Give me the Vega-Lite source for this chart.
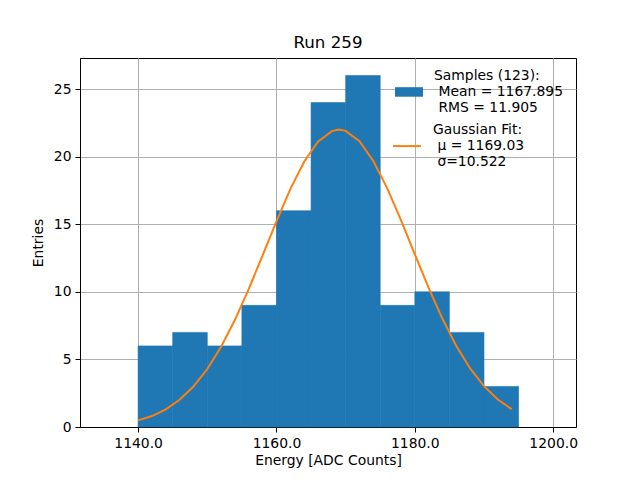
{
  "$schema": "https://vega.github.io/schema/vega-lite/v6.json",
  "width": 496,
  "height": 369,
  "autosize": "none",
  "padding": {"left": 80, "top": 58, "right": 64, "bottom": 53},
  "background": "white",
  "title": {"text": "Run 259", "fontSize": 16.7, "fontWeight": "normal", "font": "DejaVu Sans", "offset": 6, "color": "black"},
  "datasets": {
    "hist": [
      {"bin_start": 1140, "bin_end": 1145, "count": 6},
      {"bin_start": 1145, "bin_end": 1150, "count": 7},
      {"bin_start": 1150, "bin_end": 1155, "count": 6},
      {"bin_start": 1155, "bin_end": 1160, "count": 9},
      {"bin_start": 1160, "bin_end": 1165, "count": 16},
      {"bin_start": 1165, "bin_end": 1170, "count": 24},
      {"bin_start": 1170, "bin_end": 1175, "count": 26},
      {"bin_start": 1175, "bin_end": 1180, "count": 9},
      {"bin_start": 1180, "bin_end": 1185, "count": 10},
      {"bin_start": 1185, "bin_end": 1190, "count": 7},
      {"bin_start": 1190, "bin_end": 1195, "count": 3}
    ],
    "fit": [
      {"energy": 1140, "entries": 0.49},
      {"energy": 1142, "entries": 0.81},
      {"energy": 1144, "entries": 1.30},
      {"energy": 1146, "entries": 2.01},
      {"energy": 1148, "entries": 2.99},
      {"energy": 1150, "entries": 4.29},
      {"energy": 1152, "entries": 5.94},
      {"energy": 1154, "entries": 7.93},
      {"energy": 1156, "entries": 10.22},
      {"energy": 1158, "entries": 12.70},
      {"energy": 1160, "entries": 15.22},
      {"energy": 1162, "entries": 17.60},
      {"energy": 1164, "entries": 19.62},
      {"energy": 1166, "entries": 21.11},
      {"energy": 1168, "entries": 21.89},
      {"energy": 1169, "entries": 22.00},
      {"energy": 1170, "entries": 21.91},
      {"energy": 1172, "entries": 21.14},
      {"energy": 1174, "entries": 19.68},
      {"energy": 1176, "entries": 17.67},
      {"energy": 1178, "entries": 15.30},
      {"energy": 1180, "entries": 12.78},
      {"energy": 1182, "entries": 10.29},
      {"energy": 1184, "entries": 8.00},
      {"energy": 1186, "entries": 5.99},
      {"energy": 1188, "entries": 4.33},
      {"energy": 1190, "entries": 3.02},
      {"energy": 1192, "entries": 2.03},
      {"energy": 1194, "entries": 1.32}
    ]
  },
  "layer": [
    {
      "data": {"name": "hist"},
      "mark": {"type": "rect", "stroke": "#1f77b4", "strokeWidth": 0.6},
      "encoding": {
        "x": {"field": "bin_start", "type": "quantitative",
              "scale": {"domain": [1131.6, 1203.3], "nice": false, "zero": false},
              "axis": {"values": [1140, 1160, 1180, 1200], "format": ".1f", "title": "Energy [ADC Counts]"}},
        "x2": {"field": "bin_end"},
        "y": {"field": "count", "type": "quantitative",
              "scale": {"domain": [0, 27.3], "nice": false},
              "axis": {"values": [0, 5, 10, 15, 20, 25], "title": "Entries"}},
        "y2": {"datum": 0},
        "fill": {"datum": "Samples", "scale": {"range": ["#1f77b4"]},
                 "legend": {"orient": "none", "legendX": 315, "legendY": 4,
                            "symbolType": "M-1,0.8H1V1.48H-1Z", "symbolSize": 784, "symbolStrokeWidth": 0,
                            "labelExpr": "['Samples (123):', '\\u200b\\u00a0Mean = 1167.895', '\\u200b\\u00a0RMS = 11.905']"}}
      }
    },
    {
      "data": {"name": "fit"},
      "mark": {"type": "line", "strokeWidth": 2},
      "encoding": {
        "x": {"field": "energy", "type": "quantitative"},
        "y": {"field": "entries", "type": "quantitative"},
        "stroke": {"datum": "Gaussian Fit", "scale": {"range": ["#ff7f0e"]},
                   "legend": {"orient": "none", "legendX": 312, "legendY": 57,
                              "symbolType": "M-1,1.15H1", "symbolSize": 784, "symbolStrokeWidth": 2,
                              "labelExpr": "['Gaussian Fit:', '\\u200b\\u00a0μ = 1169.03', '\\u200b\\u00a0σ=10.522']"}}
      }
    },
    {
      "mark": {"type": "text", "align": "left", "baseline": "middle", "fontStyle": "italic", "fontSize": 13.9, "font": "DejaVu Sans", "color": "black"},
      "encoding": {
        "x": {"datum": 1135.2, "type": "quantitative"},
        "y": {"datum": 26.15, "type": "quantitative"},
        "text": {"value": "ATLAS"}
      }
    },
    {
      "mark": {"type": "text", "align": "left", "baseline": "middle", "fontSize": 13.9, "font": "DejaVu Sans", "color": "black"},
      "encoding": {
        "x": {"datum": 1142.1, "type": "quantitative"},
        "y": {"datum": 26.15, "type": "quantitative"},
        "text": {"value": "Upgrade"}
      }
    },
    {
      "mark": {"type": "text", "align": "left", "baseline": "middle", "fontSize": 13.9, "font": "DejaVu Sans", "color": "black", "lineHeight": 16.5},
      "encoding": {
        "x": {"datum": 1135.2, "type": "quantitative"},
        "y": {"datum": 24.22, "type": "quantitative"},
        "text": {"value": ["\u00a0Board260, 50ohm", "\u00a0Ch005 70dB"]}
      }
    }
  ],
  "config": {
    "font": "DejaVu Sans",
    "view": {"stroke": "black", "strokeWidth": 1},
    "axis": {
      "zindex": 1,
      "grid": true,
      "gridColor": "#b0b0b0",
      "gridWidth": 1,
      "domainColor": "black",
      "domainWidth": 1,
      "tickColor": "black",
      "tickSize": 5,
      "tickWidth": 1,
      "labelFont": "DejaVu Sans",
      "labelFontSize": 13.9,
      "labelColor": "black",
      "labelPadding": 4,
      "titleFont": "DejaVu Sans",
      "titleFontSize": 13.9,
      "titleFontWeight": "normal",
      "titleColor": "black"
    },
    "axisX": {"titlePadding": 4, "labelFlush": false},
    "axisY": {"titlePadding": 8},
    "legend": {
      "padding": 0,
      "title": null,
      "labelFont": "DejaVu Sans",
      "labelFontSize": 13.9,
      "labelColor": "black",
      "labelOffset": 11,
      "labelLimit": 300,
      "labelBaseline": "middle"
    }
  }
}
